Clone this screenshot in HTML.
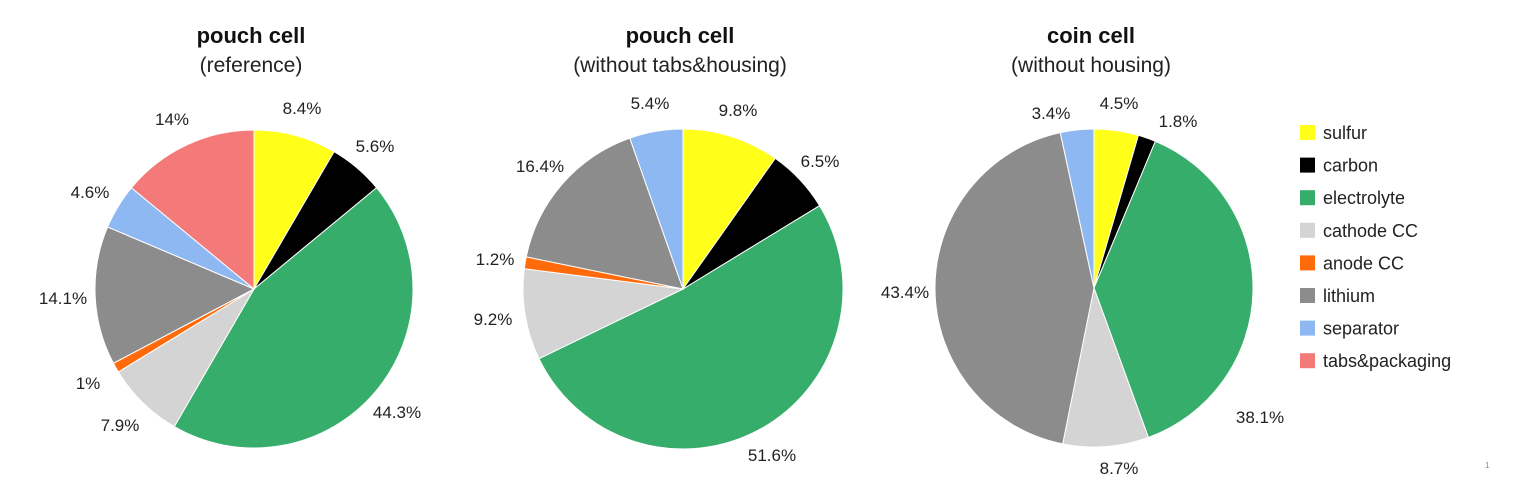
<!DOCTYPE html>
<html><head><meta charset="utf-8">
<style>
body{margin:0;background:#fff;}
svg{display:block;font-family:"Liberation Sans",Arial,sans-serif;}
</style></head>
<body>
<svg id="chart" width="1521" height="490" viewBox="0 0 1521 490"></svg>
<script>
const categories = ["sulfur","carbon","electrolyte","cathode CC","anode CC","lithium","separator","tabs&packaging"];
const colors = ["#ffff1a","#000000","#36ad6a","#d4d4d4","#ff6a0a","#8c8c8c","#8db8f2","#f47a7a"];
const titles = ["pouch cell","pouch cell","coin cell"];
const subtitles = ["(reference)","(without tabs&housing)","(without housing)"];
const values1 = [8.4,5.6,44.3,7.9,1,14.1,4.6,14];
const values2 = [9.8,6.5,51.6,9.2,1.2,16.4,5.4,0];
const values3 = [4.5,1.8,38.1,8.7,0,43.4,3.4,0];
const labels1 = ["8.4%","5.6%","44.3%","7.9%","1%","14.1%","4.6%","14%"];
const labels2 = ["9.8%","6.5%","51.6%","9.2%","1.2%","16.4%","5.4%",""];
const labels3 = ["4.5%","1.8%","38.1%","8.7%","","43.4%","3.4%",""];

// label placement (layout only, text centers)
const layout1 = [[302,108],[375,146],[397,412],[120,425],[88,383],[63,298],[90,192],[172,119]];
const layout2 = [[738,110],[820,161],[772,455],[493,319],[495,259],[540,166],[650,103],null];
const layout3 = [[1119,103],[1178,121],[1260,417],[1119,468],null,[905,292],[1051,113],null];

const NS="http://www.w3.org/2000/svg";
const svg=document.getElementById('chart');
function mk(tag,attrs,parent){const e=document.createElementNS(NS,tag);for(const k in attrs)e.setAttribute(k,attrs[k]);(parent||svg).appendChild(e);return e;}

const pies=[{cx:254,cy:289,r:159,v:values1,l:labels1,lp:layout1},{cx:683,cy:289,r:160,v:values2,l:labels2,lp:layout2},{cx:1094,cy:288,r:159,v:values3,l:labels3,lp:layout3}];
pies.forEach((p,pi)=>{
  const g=mk('g',{});
  
  
  const t=mk('text',{x:p.cx-3,y:43,'text-anchor':'middle','font-size':22,'font-weight':'bold',fill:'#111'},g);
  t.textContent=titles[pi];
  
  
  const s=mk('text',{x:p.cx-3,y:72,'text-anchor':'middle','font-size':21,fill:'#222'},g);
  s.textContent=subtitles[pi];
  
  
  const total=p.v.reduce((a,b)=>a+b,0);
  let cum=0;
  p.v.forEach((val,i)=>{
    if(val<=0){return;}
    const a0=cum/total*2*Math.PI, a1=(cum+val)/total*2*Math.PI; cum+=val;
    const x0=p.cx+p.r*Math.sin(a0),y0=p.cy-p.r*Math.cos(a0);
    const x1=p.cx+p.r*Math.sin(a1),y1=p.cy-p.r*Math.cos(a1);
    const large=(a1-a0)>Math.PI?1:0;
    const path=mk('path',{d:`M${p.cx},${p.cy}L${x0},${y0}A${p.r},${p.r} 0 ${large} 1 ${x1},${y1}Z`,fill:colors[i],stroke:'#fff','stroke-width':1},g);
    
    
    if(p.l[i]){
      let lx,ly;
      if(p.lp[i]){lx=p.lp[i][0];ly=p.lp[i][1];}
      else{const am=(a0+a1)/2, lr=p.r+30;lx=p.cx+lr*Math.sin(am);ly=p.cy-lr*Math.cos(am);}
      const lt=mk('text',{x:lx,y:ly+6,'text-anchor':'middle','font-size':17,fill:'#222'},g);
      lt.textContent=p.l[i];
      
      
    }
  });
});
const lg=mk('g',{});


categories.forEach((c,i)=>{
  const y=125+i*32.6;
  const r=mk('rect',{x:1300,y:y,width:15,height:15,fill:colors[i]},lg);
  
  
  const t=mk('text',{x:1323,y:y+14,'font-size':18,fill:'#222'},lg);
  t.textContent=c;
  
  
});
const pn=mk('text',{x:1485,y:468,'font-size':8,fill:'#888'});
pn.textContent='1';


</script>
</body></html>
